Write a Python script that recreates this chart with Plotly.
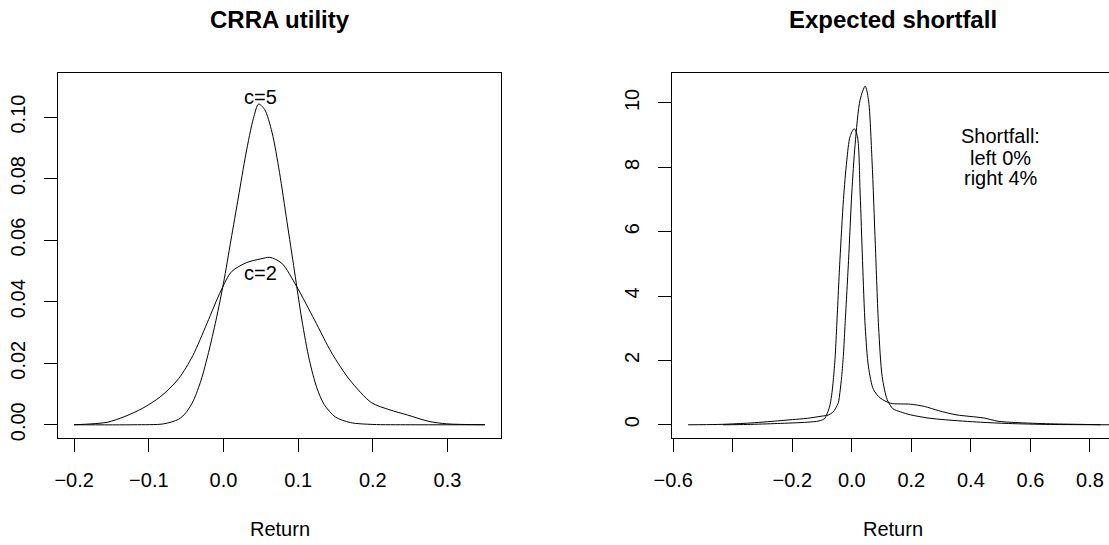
import plotly.graph_objects as go

W, H = 1109, 545

# ---------------- data ----------------
# Left panel: CRRA utility densities
x_c5 = [-0.20, -0.12, -0.08, -0.06, -0.05, -0.04, -0.03, -0.02, -0.01, 0.00, 0.01, 0.02, 0.03,
        0.04, 0.047, 0.055, 0.065, 0.075, 0.085, 0.095, 0.105, 0.115, 0.125, 0.135, 0.15,
        0.17, 0.20, 0.25, 0.35]
y_c5 = [0.0, 0.0, 0.0003, 0.0018, 0.0040, 0.0080, 0.0145, 0.0235, 0.0340, 0.0460, 0.0600,
        0.0740, 0.0880, 0.0995, 0.1042, 0.1025, 0.0950, 0.0820, 0.0660, 0.0500, 0.0340,
        0.0210, 0.0120, 0.0065, 0.0025, 0.0007, 0.0001, 0.0, 0.0]

x_c2 = [-0.20, -0.156, -0.132, -0.108, -0.084, -0.060, -0.041, -0.022, -0.003, 0.011, 0.031,
        0.050, 0.062, 0.078, 0.098, 0.122, 0.145, 0.169, 0.198, 0.222, 0.246, 0.275, 0.299, 0.35]
y_c2 = [0.0, 0.0008, 0.0027, 0.0054, 0.0092, 0.0150, 0.0225, 0.0330, 0.0438, 0.0498, 0.0527,
        0.0539, 0.0544, 0.0525, 0.0449, 0.0340, 0.0233, 0.0146, 0.0072, 0.0049, 0.0032,
        0.0011, 0.0003, 0.0]

# Right panel: expected shortfall densities
x_a = [-0.433, -0.35, -0.25, -0.15, -0.11, -0.09, -0.085, -0.075, -0.068, -0.062, -0.056,
       -0.051, -0.040, -0.028, -0.017, -0.006, 0.008, 0.019, 0.028, 0.036, 0.045, 0.056,
       0.073, 0.096, 0.13, 0.197, 0.244, 0.291, 0.35, 0.397, 0.444, 0.491, 0.55, 0.667,
       0.785, 0.835]
y_a = [0.0, 0.01, 0.04, 0.08, 0.12, 0.2, 0.3, 0.55, 0.9, 1.4, 2.1, 3.0, 5.1, 7.0, 8.2, 8.95,
       9.2, 8.95, 7.2, 5.1, 3.05, 1.8, 1.09, 0.83, 0.67, 0.64, 0.57, 0.44, 0.31, 0.26, 0.21,
       0.11, 0.07, 0.03, 0.01, 0.0]

x_b = [-0.55, -0.45, -0.35, -0.25, -0.20, -0.15, -0.10, -0.08, -0.065, -0.055, -0.045,
       -0.040, -0.034, -0.028, -0.023, -0.011, 0.0, 0.011, 0.028, 0.045, 0.056, 0.068,
       0.079, 0.090, 0.102, 0.119, 0.138, 0.164, 0.197, 0.256, 0.315, 0.432, 0.526, 0.667, 0.90]
y_b = [0.0, 0.01, 0.05, 0.12, 0.16, 0.20, 0.27, 0.30, 0.38, 0.50, 0.70, 1.0, 1.5, 2.2, 3.05,
       5.1, 7.2, 8.7, 10.1, 10.52, 10.1, 8.2, 5.6, 3.05, 1.5, 0.78, 0.5, 0.4, 0.31, 0.21,
       0.155, 0.08, 0.04, 0.01, 0.0]

left_xticks = [-0.2, -0.1, 0.0, 0.1, 0.2, 0.3]
left_xlabels = ["\u22120.2", "\u22120.1", "0.0", "0.1", "0.2", "0.3"]
left_yticks = [0.0, 0.02, 0.04, 0.06, 0.08, 0.10]
left_ylabels = ["0.00", "0.02", "0.04", "0.06", "0.08", "0.10"]
right_xticks = [-0.6, -0.4, -0.2, 0.0, 0.2, 0.4, 0.6, 0.8]
right_xlabels = ["\u22120.6", "", "\u22120.2", "0.0", "0.2", "0.4", "0.6", "0.8"]
right_yticks = [0, 2, 4, 6, 8, 10]
right_ylabels = ["0", "2", "4", "6", "8", "10"]

titles = ["CRRA utility", "Expected shortfall"]
xlabel = "Return"
curve_labels = ["c=5", "c=2"]
curve_label_y = [0.1066, 0.0493]
shortfall_lines = ["Shortfall:", "left 0%", "right 4%"]
shortfall_y = [8.97, 8.30, 7.66]

# ---------------- figure ----------------
FONT = "Liberation Sans, Arial, Helvetica, sans-serif"
FS = 20
FT = 24

fig = go.Figure()
for xs, ys in [(x_c5, y_c5), (x_c2, y_c2)]:
    fig.add_trace(go.Scatter(x=xs, y=ys, mode="lines",
                             line=dict(color="black", width=1, shape="spline", smoothing=0.8),
                             xaxis="x", yaxis="y", showlegend=False, hoverinfo="skip"))
for xs, ys in [(x_a, y_a), (x_b, y_b)]:
    fig.add_trace(go.Scatter(x=xs, y=ys, mode="lines",
                             line=dict(color="black", width=1, shape="spline", smoothing=0.8),
                             xaxis="x2", yaxis="y2", showlegend=False, hoverinfo="skip"))


def px_x(p):
    return p / W


def px_y(p):
    return 1 - p / H


L0, L1 = 57.7, 501.3
R0 = 672.3
TOP, BOT = 72.7, 438.3

axis_common = dict(showgrid=False, zeroline=False, showline=True, linecolor="black", linewidth=1,
                   ticks="outside", ticklen=13, tickwidth=1, tickcolor="black",
                   tickfont=dict(family=FONT, size=FS, color="black"), automargin=False)

fig.update_layout(
    width=W, height=H, margin=dict(l=0, r=0, t=0, b=0),
    paper_bgcolor="white", plot_bgcolor="white",
    font=dict(family=FONT, size=FS, color="black"),
    xaxis=dict(domain=[px_x(L0), px_x(L1)], range=[-0.222, 0.372], tickvals=left_xticks,
               ticktext=left_xlabels, mirror=True, anchor="y", ticklabelstandoff=11, **axis_common),
    yaxis=dict(domain=[px_y(BOT), px_y(TOP)], range=[-0.0044, 0.1144], tickvals=left_yticks,
               ticktext=left_ylabels, mirror=True, anchor="x", tickangle=-90, ticklabelstandoff=11,
               **axis_common),
    xaxis2=dict(domain=[px_x(R0), 1.0], range=[-0.603, 0.864], tickvals=right_xticks,
                ticktext=right_xlabels, mirror=True, anchor="y2", ticklabelstandoff=11, **axis_common),
    yaxis2=dict(domain=[px_y(BOT), px_y(TOP)], range=[-0.42, 10.94], tickvals=right_yticks,
                ticktext=right_ylabels, mirror=False, anchor="x2", tickangle=-90, ticklabelstandoff=11,
                **axis_common),
)

ann = []
for t, cx in zip(titles, [279.5, 893]):
    ann.append(dict(text="<b>" + t + "</b>", x=px_x(cx), y=px_y(19), xref="paper", yref="paper",
                    showarrow=False, font=dict(family=FONT, size=FT, color="black"),
                    xanchor="center", yanchor="middle"))
for cx in [279.5, 893]:
    ann.append(dict(text=xlabel, x=px_x(cx), y=px_y(529), xref="paper", yref="paper", showarrow=False,
                    font=dict(family=FONT, size=FS, color="black"), xanchor="center", yanchor="middle"))
for t, yy in zip(curve_labels, curve_label_y):
    ann.append(dict(text=t, x=0.05, y=yy, xref="x", yref="y", showarrow=False,
                    font=dict(family=FONT, size=FS, color="black")))
for t, yy in zip(shortfall_lines, shortfall_y):
    ann.append(dict(text=t, x=0.5, y=yy, xref="x2", yref="y2", showarrow=False,
                    font=dict(family=FONT, size=FS, color="black")))
fig.update_layout(annotations=ann)

fig.write_html("out.html", config={"displayModeBar": False},
               post_script="document.body.style.margin='0px';")
